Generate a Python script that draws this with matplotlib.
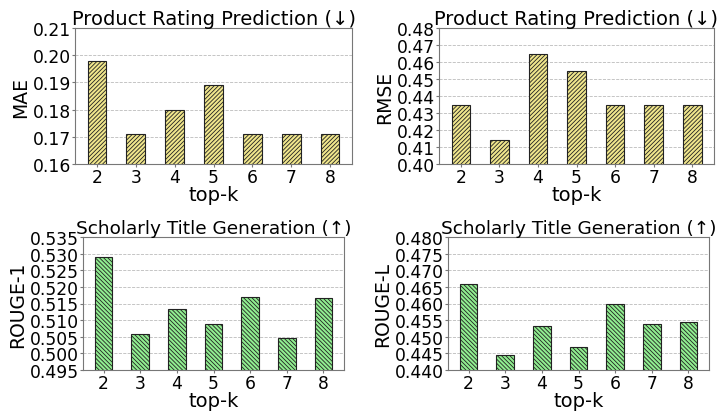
import matplotlib
matplotlib.use("Agg")
import matplotlib.pyplot as plt
import numpy as np

topk = ["2", "3", "4", "5", "6", "7", "8"]

mae = [0.198, 0.171, 0.180, 0.189, 0.171, 0.171, 0.171]
rmse = [0.435, 0.414, 0.465, 0.455, 0.435, 0.435, 0.435]
rouge1 = [0.5291, 0.5057, 0.5133, 0.5088, 0.5171, 0.5045, 0.5168]
rougel = [0.4660, 0.4444, 0.4532, 0.4468, 0.4600, 0.4538, 0.4543]

titles = ["Product Rating Prediction (\u2193)", "Product Rating Prediction (\u2193)",
          "Scholarly Title Generation (\u2191)", "Scholarly Title Generation (\u2191)"]
ylabels = ["MAE", "RMSE", "ROUGE-1", "ROUGE-L"]
ylims = [(0.16, 0.21), (0.40, 0.48), (0.495, 0.535), (0.440, 0.480)]
ysteps = [0.01, 0.01, 0.005, 0.005]
yfmt = ["%.2f", "%.2f", "%.3f", "%.3f"]
title_sizes = [14, 14, 13.3, 13.3]

plt.rcParams["hatch.linewidth"] = 0.6

fig = plt.figure(figsize=(7.23, 4.14), dpi=100)
# axes positions in pixels: left, top, right, bottom
boxes = [(75, 29, 352, 165), (439, 29, 714, 165), (83, 238, 344, 371), (448, 238, 709, 371)]
W, H = 723, 414

data = [mae, rmse, rouge1, rougel]
colors = ["#f0e68c", "#f0e68c", "#90ee90", "#90ee90"]
hatches = ["////////", "////////", "\\\\\\\\\\\\\\\\", "\\\\\\\\\\\\\\\\"]

x = np.arange(len(topk))
for i in range(4):
    l, t, r, b = boxes[i]
    ax = fig.add_axes([l / W, 1 - b / H, (r - l) / W, (b - t) / H])
    ax.set_axisbelow(True)
    ax.yaxis.grid(True, linestyle="--", color="#bbbbbb", linewidth=0.6)
    ax.bar(x, data[i], width=0.48, color=colors[i], hatch=hatches[i],
           edgecolor="#222222", linewidth=0.8)
    ax.set_xticks(x)
    ax.set_xticklabels(topk)
    lo, hi = ylims[i]
    ax.set_ylim(lo, hi)
    ax.set_yticks(np.arange(lo, hi + ysteps[i] / 2, ysteps[i]))
    ax.yaxis.set_major_formatter(matplotlib.ticker.FormatStrFormatter(yfmt[i]))
    ax.tick_params(labelsize=12.3, length=2, pad=1, color="#777777")
    ax.set_title(titles[i], fontsize=title_sizes[i], pad=1)
    ax.set_ylabel(ylabels[i], fontsize=13.5, labelpad=2)
    ax.set_xlabel("top-k", fontsize=14, labelpad=-1)
    for s in ax.spines.values():
        s.set_color("#777777")

fig.savefig("out.png", dpi=100)
